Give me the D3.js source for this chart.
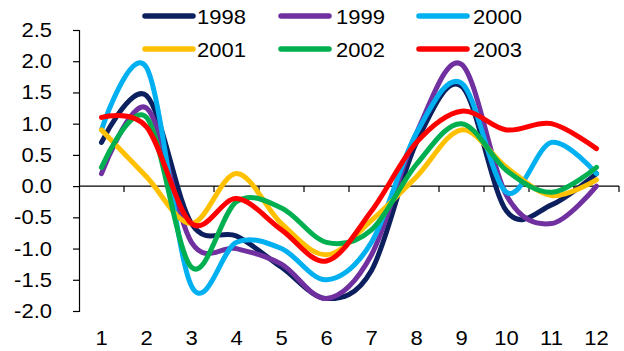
<!DOCTYPE html>
<html>
<head>
<meta charset="utf-8">
<script src="https://cdn.jsdelivr.net/npm/d3@7"></script>
<style>
  body { margin: 0; background: #fff; }
  text { font-family: "Liberation Sans", Arial, sans-serif; font-size: 20px; fill: #000; }
</style>
</head>
<body>
<svg id="chart" width="624" height="351"></svg>
<script>
// months on the x axis
const months = ["1", "2", "3", "4", "5", "6", "7", "8", "9", "10", "11", "12"];
const yTicks = [2.5, 2.0, 1.5, 1.0, 0.5, 0.0, -0.5, -1.0, -1.5, -2.0];

// one array per year
const y1998 = [0.7, 1.45, -0.6, -0.8, -1.3, -1.8, -1.35, 0.7, 1.6, -0.4, -0.3, 0.2];
const y1999 = [0.2, 1.25, -0.9, -1.0, -1.25, -1.8, -1.1, 0.85, 1.95, -0.15, -0.6, 0.0];
const y2000 = [0.9, 1.9, -1.6, -0.9, -1.0, -1.5, -0.9, 0.85, 1.65, -0.1, 0.7, 0.2];
const y2001 = [0.9, 0.15, -0.6, 0.2, -0.6, -1.1, -0.55, 0.15, 0.9, 0.3, -0.15, 0.1];
const y2002 = [0.3, 1.1, -1.3, -0.25, -0.35, -0.9, -0.7, 0.35, 1.0, 0.25, -0.1, 0.3];
const y2003 = [1.1, 0.95, -0.6, -0.2, -0.7, -1.2, -0.4, 0.7, 1.2, 0.9, 1.0, 0.6];

const seriesNames = ["1998", "1999", "2000", "2001", "2002", "2003"];
const seriesColors = ["#0c1f5e", "#7030a0", "#00b0f0", "#ffc000", "#00b050", "#ff0000"];
const seriesValues = [y1998, y1999, y2000, y2001, y2002, y2003];

const svg = d3.select("#chart");
const stretch = 1.1; // glyphs in the picture are a little wide

const x = d3.scaleBand().domain(months).range([79, 619]);
const y = d3.scaleLinear().domain([-2.0, 2.5]).range([311, 30]);

function wideText(sel, px, py) {
    sel.attr("transform", (d, i) => `translate(${px(d, i)},${py(d, i)}) scale(${stretch},1)`);
}

// y axis
const yAxis = svg.append("g")
    .attr("transform", "translate(79,0)")
    .call(d3.axisLeft(y).tickValues(yTicks).tickSize(6));
yAxis.select(".domain").attr("stroke", "#000").attr("stroke-width", 1.2);
yAxis.selectAll(".tick line").attr("stroke", "#000").attr("stroke-width", 1.2);
yAxis.selectAll(".tick text").remove();

svg.selectAll(".ylab")
    .data(yTicks)
    .enter()
    .append("text")
    .attr("text-anchor", "end")
    .attr("dy", "0.35em")
    .text(d => d3.format(".1f")(d).replace("−", "-"))
    .call(wideText, () => 52, d => y(d));

// x axis sits on zero, ticks between categories
const xAxis = svg.append("g").attr("transform", `translate(0,${y(0)})`);
xAxis.append("line")
    .attr("x1", 79).attr("x2", 619)
    .attr("stroke", "#000").attr("stroke-width", 1.2);
xAxis.selectAll(".bound")
    .data(months)
    .enter()
    .append("line")
    .attr("x1", d => x(d) + x.bandwidth())
    .attr("x2", d => x(d) + x.bandwidth())
    .attr("y1", 0).attr("y2", 6)
    .attr("stroke", "#000").attr("stroke-width", 1.2);

svg.selectAll(".xlab")
    .data(months)
    .enter()
    .append("text")
    .attr("text-anchor", "middle")
    .text(d => d)
    .call(wideText, d => x(d) + x.bandwidth() / 2, () => 345);

// lines
const line = d3.line()
    .x((d, i) => x(months[i]) + x.bandwidth() / 2)
    .y(d => y(d))
    .curve(d3.curveCardinal.tension(0));

svg.selectAll(".series")
    .data(seriesValues)
    .enter()
    .append("path")
    .attr("fill", "none")
    .attr("stroke", (d, i) => seriesColors[i])
    .attr("stroke-width", 5)
    .attr("stroke-linecap", "round")
    .attr("stroke-linejoin", "round")
    .attr("d", line);

// legend, two rows of three
const swatchX = [143, 279, 417];
const labelX = [197, 336, 473];
const rowY = [16, 49];

svg.selectAll(".swatch")
    .data(seriesNames)
    .enter()
    .append("line")
    .attr("x1", (d, i) => swatchX[i % 3] + 2)
    .attr("x2", (d, i) => swatchX[i % 3] + 50)
    .attr("y1", (d, i) => rowY[Math.floor(i / 3)])
    .attr("y2", (d, i) => rowY[Math.floor(i / 3)])
    .attr("stroke", (d, i) => seriesColors[i])
    .attr("stroke-width", 5.5)
    .attr("stroke-linecap", "round");

svg.selectAll(".legtext")
    .data(seriesNames)
    .enter()
    .append("text")
    .attr("dy", "0.38em")
    .text(d => d)
    .call(wideText, (d, i) => labelX[i % 3], (d, i) => rowY[Math.floor(i / 3)]);
</script>
</body>
</html>
